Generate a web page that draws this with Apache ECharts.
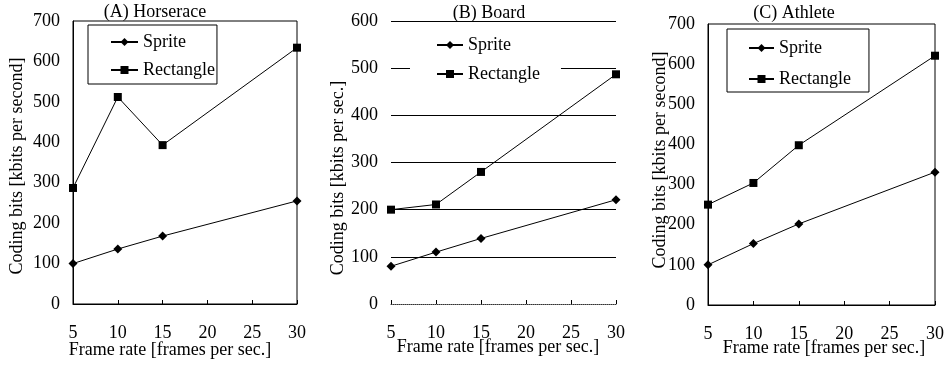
<!DOCTYPE html>
<html>
<head>
<meta charset="utf-8">
<script src="https://cdn.jsdelivr.net/npm/echarts@6/dist/echarts.min.js"></script>
<style>html,body{margin:0;padding:0;background:#fff}#c{width:948px;height:366px}</style>
</head>
<body>
<div id="c"></div>
<script>
const frameRates = [5, 10, 15, 30];
const spriteA = [100, 136, 168, 255];
const rectA = [287, 512, 393, 634];
const spriteB = [80, 110, 139, 221];
const rectB = [200, 211, 280, 487];
const spriteC = [100, 153, 202, 331];
const rectC = [250, 304, 398, 621];
const panelTitles = ['(A) Horserace', '(B) Board', '(C) Athlete'];
const yNames = ['Coding bits [kbits per second]', 'Coding bits [kbits per sec.]', 'Coding bits [kbits per second]'];
const xName = 'Frame rate [frames per sec.]';
const yMax = [700, 600, 700];

const FONT = 'Liberation Serif';
const FS = 18;
const pts = (vals) => frameRates.map((x, i) => [x, vals[i]]);

const chart = echarts.init(document.getElementById('c'));

function mkSeries(name, vals, idx, sym, size) {
  return {
    name: name, type: 'line', xAxisIndex: idx, yAxisIndex: idx,
    data: pts(vals), symbol: sym, symbolSize: size,
    lineStyle: {color: '#000', width: 1},
    itemStyle: {color: '#000'},
    animation: false
  };
}

const grids = [
  {left: 73, top: 21, width: 224, height: 283, show: true, borderColor: '#000', borderWidth: 1},
  {left: 391, top: 21, width: 225, height: 283},
  {left: 708, top: 24, width: 227, height: 281, show: true, borderColor: '#000', borderWidth: 1}
];

const xAxes = grids.map((g, i) => ({
  type: 'value', gridIndex: i, min: 5, max: 30, interval: 5,
  axisLine: {show: true, lineStyle: {color: i === 1 ? '#333' : '#000', type: i === 1 ? 'dotted' : 'solid'}},
  axisTick: {show: true, inside: true, length: 4, lineStyle: {color: '#000'}},
  axisLabel: {color: '#000', fontFamily: FONT, fontSize: FS, margin: 20},
  splitLine: {show: false}
}));
const yAxes = grids.map((g, i) => ({
  type: 'value', gridIndex: i, min: 0, max: yMax[i], interval: 100,
  axisLine: {show: i !== 1, lineStyle: {color: '#000'}},
  axisTick: {show: false},
  axisLabel: {color: '#000', fontFamily: FONT, fontSize: FS, margin: 13},
  splitLine: {show: i === 1, showMinLine: false, lineStyle: {color: '#000', width: 1}}
}));

const legendBase = {
  orient: 'vertical', itemWidth: 27, itemHeight: 10,
  textStyle: {color: '#000', fontFamily: FONT, fontSize: FS},
  data: ['Sprite', 'Rectangle'], selectedMode: false
};
const legends = [
  Object.assign({}, legendBase, {left: 88, top: 25, itemGap: 10, padding: [8, 2, 5, 22], borderColor: '#000', borderWidth: 1}),
  Object.assign({}, legendBase, {left: 410, top: 32, itemGap: 11, itemWidth: 26, padding: [4, 21, 2, 26], backgroundColor: '#fff'}),
  Object.assign({}, legendBase, {left: 727, top: 29, itemGap: 13, itemWidth: 25, padding: [10, 18, 4, 21], borderColor: '#000', borderWidth: 1})
];

const txt = (text, x, y, rot) => ({
  type: 'text', x: x, y: y, rotation: rot || 0, silent: true,
  style: {text: text, font: FS + 'px "' + FONT + '"', fill: '#000', align: 'center', verticalAlign: 'middle'}
});

const graphics = [
  txt(panelTitles[0], 155, 12), txt(panelTitles[1], 489, 13), txt(panelTitles[2], 794, 13),
  txt(yNames[0], 17, 166, Math.PI / 2), txt(yNames[1], 338, 178, Math.PI / 2), txt(yNames[2], 660, 160, Math.PI / 2),
  txt(xName, 170, 350), txt(xName, 498, 347), txt(xName, 824, 348)
];

chart.setOption({
  animation: false,
  backgroundColor: '#fff',
  grid: grids,
  xAxis: xAxes,
  yAxis: yAxes,
  legend: legends,
  graphic: graphics,
  series: [
    mkSeries('Sprite', spriteA, 0, 'diamond', 9), mkSeries('Rectangle', rectA, 0, 'rect', 8),
    mkSeries('Sprite', spriteB, 1, 'diamond', 9), mkSeries('Rectangle', rectB, 1, 'rect', 8),
    mkSeries('Sprite', spriteC, 2, 'diamond', 9), mkSeries('Rectangle', rectC, 2, 'rect', 8)
  ]
});
</script>
</body>
</html>
